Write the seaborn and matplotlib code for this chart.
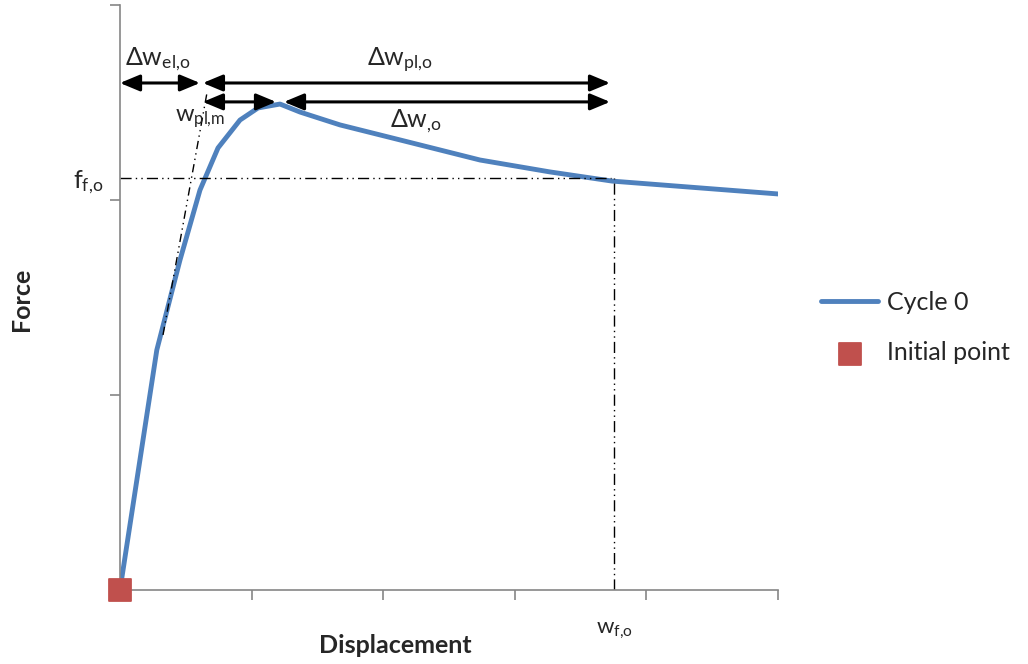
import numpy as np
import pandas as pd
import matplotlib
matplotlib.use("Agg")
import matplotlib.pyplot as plt
import seaborn as sns

sns.set_style("ticks")
plt.rcParams['font.family'] = ['Lato', 'DejaVu Sans']
plt.rcParams['mathtext.fontset'] = 'custom'
plt.rcParams['mathtext.rm'] = 'Lato'
plt.rcParams['mathtext.it'] = 'Lato'
plt.rcParams['mathtext.default'] = 'regular'

# Cycle 0 force-displacement curve
displacement = [0.0, 0.28, 0.456, 0.608, 0.745, 0.912, 1.049, 1.216, 1.368,
                1.672, 2.128, 2.736, 3.267, 3.739, 4.407, 5.0]
force = [0.0, 1.231, 1.692, 2.051, 2.267, 2.41, 2.472, 2.492, 2.451,
         2.385, 2.308, 2.205, 2.144, 2.097, 2.062, 2.031]

initial_x = [0.0]
initial_y = [0.0]

# characteristic values
f_fo = 2.113
w_fo = 3.754
w_pl_m = 0.63
w_peak = 1.216
elastic_x = [0.327, 0.661]
elastic_y = [1.308, 2.549]

blue = "#4F81BD"
red = "#C0504D"
grey = "#868686"

df = pd.DataFrame({"Displacement": displacement, "Force": force})

fig = plt.figure(figsize=(10.28, 6.64), dpi=100)
ax = fig.add_axes([0.1167, 0.1114, 0.6401, 0.8811])

sns.lineplot(data=df, x="Displacement", y="Force", ax=ax, color=blue,
             linewidth=3.5, label="Cycle 0", sort=False)
sns.scatterplot(x=initial_x, y=initial_y, ax=ax, marker="s", color=red, s=260,
                edgecolor=red, label="Initial point", clip_on=False, zorder=5)

# helper lines
ax.plot([0, w_fo - 0.02], [f_fo, f_fo], color="black", lw=1, ls=(0, (8, 3, 1, 3, 1, 3)))
ax.plot([w_fo, w_fo], [0, f_fo], color="black", lw=1, ls=(0, (8, 3, 1, 3, 1, 3)))
ax.plot(elastic_x, elastic_y, color="black", lw=1, ls=(0, (6, 3, 1, 3, 1, 3)))

# dimension arrows
arw = dict(arrowstyle="<|-|>,head_length=0.6,head_width=0.25", color="black",
           lw=2.2, shrinkA=0, shrinkB=0, mutation_scale=20)
y1, y2 = 2.6, 2.503
ax.annotate("", xy=(0, y1), xytext=(0.608, y1), arrowprops=arw)
ax.annotate("", xy=(w_pl_m, y1), xytext=(w_fo - 0.03, y1), arrowprops=arw)
ax.annotate("", xy=(w_pl_m, y2), xytext=(w_peak - 0.03, y2), arrowprops=arw)
ax.annotate("", xy=(w_peak + 0.03, y2), xytext=(w_fo - 0.03, y2), arrowprops=arw)

fs = 18
ax.text(0.29, 2.725, "Δw$_{el{,}o}$", ha="center", va="center", fontsize=fs)
ax.text(2.13, 2.715, "Δw$_{pl{,}o}$", ha="center", va="center", fontsize=fs)
ax.text(0.61, 2.415, "w$_{pl{,}m}$", ha="center", va="center", fontsize=fs - 1)
ax.text(2.25, 2.405, "Δw$_{{,}o}$", ha="center", va="center", fontsize=fs)
ax.text(-0.13, f_fo - 0.02, "f$_{f{,}o}$", ha="right", va="center", fontsize=fs)
ax.text(w_fo, -0.21, "w$_{f{,}o}$", ha="center", va="center", fontsize=fs - 2)

ax.set_xlim(0, 5)
ax.set_ylim(0, 3)
ax.set_xticks([0, 1, 2, 3, 4, 5])
ax.set_yticks([0, 1, 2, 3])
ax.set_xticklabels([])
ax.set_yticklabels([])
ax.tick_params(axis="both", length=7, width=1.2, color=grey)
sns.despine(ax=ax)
for s in ["left", "bottom"]:
    ax.spines[s].set_color(grey)
    ax.spines[s].set_linewidth(1.2)

ax.set_xlabel("Displacement", fontsize=18, fontweight="bold", va="center")
ax.set_ylabel("Force", fontsize=18, fontweight="bold", va="center")
ax.xaxis.set_label_coords(0.418, -0.094)
ax.yaxis.set_label_coords(-0.149, 0.496)

ax.legend(loc="center left", bbox_to_anchor=(1.05, 0.449), frameon=False,
          fontsize=18, handlelength=2.3, labelspacing=1.1, handletextpad=0.35,
          borderaxespad=0)

fig.savefig("out.png", dpi=100)
